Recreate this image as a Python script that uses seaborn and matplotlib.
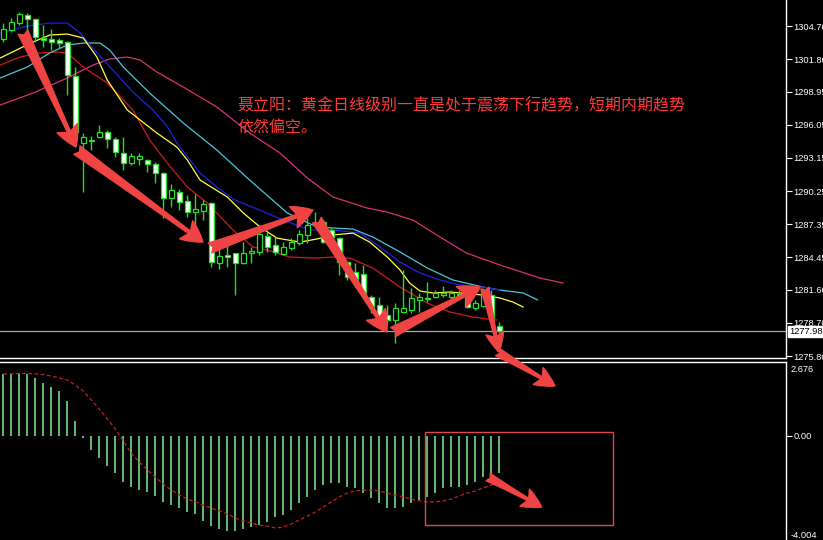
import numpy as np
import matplotlib
matplotlib.use("Agg")
import matplotlib.pyplot as plt
import matplotlib.transforms as mtransforms
from matplotlib.patches import Rectangle
import seaborn as sns

# candles (daily gold)
opens = [1303.56, 1304.35, 1304.96, 1305.66, 1305.31, 1303.65, 1303.56, 1303.48, 1303.30, 1300.32,
         1294.45, 1294.63, 1294.98, 1295.42, 1294.80, 1293.58, 1292.70, 1293.05, 1292.97, 1292.61,
         1291.83, 1289.64, 1290.16, 1289.38, 1288.41, 1288.50, 1289.20, 1283.95, 1284.65, 1284.82,
         1283.95, 1284.82, 1284.91, 1286.31, 1285.52, 1284.73, 1285.26, 1285.70, 1286.40, 1287.45,
         1287.54, 1286.84, 1286.13, 1284.03, 1283.16, 1282.98, 1280.97, 1280.27, 1279.39, 1278.95,
         1279.66, 1279.83, 1280.71, 1280.88, 1280.97, 1281.14, 1280.97, 1281.23, 1281.14, 1280.01,
         1280.18, 1281.14, 1278.43]
closes = [1304.44, 1305.05, 1305.75, 1305.31, 1303.74, 1303.48, 1303.30, 1303.21, 1300.41, 1295.42,
          1294.98, 1294.72, 1295.42, 1294.80, 1293.67, 1292.70, 1293.32, 1293.32, 1292.61, 1291.83,
          1289.64, 1290.34, 1289.29, 1288.41, 1288.68, 1289.11, 1284.03, 1284.56, 1284.47, 1283.95,
          1284.82, 1285.00, 1286.48, 1285.35, 1284.91, 1285.35, 1285.78, 1286.48, 1287.27, 1287.27,
          1285.78, 1286.22, 1284.03, 1282.72, 1282.46, 1281.14, 1280.01, 1279.22, 1278.95, 1280.01,
          1280.01, 1280.88, 1280.97, 1280.84, 1281.32, 1281.32, 1281.32, 1281.06, 1280.09, 1280.44,
          1281.58, 1279.13, 1277.98]
highs = [1304.96, 1305.40, 1305.93, 1305.84, 1305.40, 1304.79, 1304.44, 1303.65, 1303.39, 1301.11,
         1295.33, 1295.07, 1296.03, 1295.59, 1294.98, 1294.98, 1293.58, 1293.58, 1293.05, 1292.79,
         1291.92, 1290.86, 1290.43, 1289.90, 1289.99, 1289.46, 1289.29, 1285.35, 1286.22, 1284.82,
         1285.78, 1285.35, 1287.27, 1286.66, 1286.22, 1285.78, 1286.13, 1286.84, 1287.89, 1288.41,
         1287.71, 1287.01, 1286.22, 1284.03, 1283.95, 1283.77, 1281.14, 1280.97, 1280.27, 1280.44,
         1283.33, 1281.76, 1281.32, 1282.28, 1281.58, 1281.93, 1281.58, 1281.58, 1281.76, 1280.71,
         1281.76, 1281.58, 1278.78]
lows = [1303.30, 1304.17, 1304.79, 1303.91, 1303.30, 1302.86, 1302.60, 1302.77, 1298.66, 1295.33,
        1290.16, 1293.84, 1294.89, 1294.02, 1293.23, 1292.09, 1292.53, 1292.53, 1291.92, 1290.95,
        1287.89, 1288.85, 1288.59, 1287.98, 1287.28, 1287.71, 1283.59, 1283.42, 1283.59, 1281.14,
        1283.86, 1283.95, 1284.65, 1284.91, 1284.65, 1284.65, 1285.08, 1285.52, 1285.70, 1287.10,
        1285.70, 1286.13, 1282.89, 1282.46, 1281.84, 1280.97, 1279.57, 1279.13, 1278.69, 1276.94,
        1279.57, 1279.57, 1279.66, 1280.53, 1280.88, 1280.97, 1280.71, 1280.88, 1280.01, 1279.83,
        1280.09, 1278.95, 1277.82]

# moving average lines (bar position, price); some are shifted past the last bar
yellow_x = [-0.4, 3.7, 5.8, 8.0, 10.0, 11.7, 13.0, 15.5, 19.2, 21.7, 23.0, 24.6, 28.0, 30.0, 32.1,
            34.2, 37.1, 39.2, 41.2, 43.7, 45.8, 48.0, 49.6, 50.8, 52.1, 53.7, 55.8, 60.0, 62.1, 63.7, 65.0]
yellow_y = [1301.90, 1303.30, 1303.91, 1304.00, 1303.65, 1301.99, 1299.97, 1297.35, 1295.33, 1294.10,
            1292.97, 1291.21, 1289.73, 1288.33, 1287.10, 1286.13, 1285.78, 1286.05, 1286.40, 1286.57,
            1285.78, 1284.47, 1283.33, 1282.19, 1281.49, 1281.32, 1281.41, 1281.14, 1280.88, 1280.53, 1280.09]
blue_x = [-0.4, 3.0, 5.8, 8.0, 9.6, 11.7, 13.7, 16.2, 18.7, 20.5, 21.7, 24.6, 26.7, 28.7, 30.8, 35.0,
          38.3, 41.2, 44.6, 47.1, 49.6, 52.1, 54.6, 57.1, 60.0, 62.1]
blue_y = [1304.09, 1304.70, 1304.96, 1304.96, 1304.09, 1302.34, 1300.85, 1298.92, 1297.35, 1295.90,
          1294.45, 1291.83, 1290.60, 1289.55, 1288.94, 1287.71, 1286.84, 1286.84, 1286.57, 1285.35,
          1284.03, 1283.07, 1282.46, 1282.02, 1281.84, 1281.58]
cyan_x = [-0.4, 3.0, 5.8, 8.0, 10.0, 12.1, 13.3, 15.0, 18.3, 22.5, 26.7, 30.8, 35.5, 39.2, 43.7,
          46.2, 49.6, 53.0, 56.2, 60.0, 62.1, 65.0, 66.8]
cyan_y = [1300.15, 1301.11, 1302.34, 1303.04, 1303.21, 1303.21, 1302.60, 1301.11, 1298.83, 1296.21,
          1293.84, 1291.21, 1288.33, 1287.10, 1286.92, 1286.22, 1284.91, 1283.51, 1282.46, 1281.84,
          1281.58, 1281.32, 1280.71]
red_x = [-0.4, 2.1, 4.6, 6.8, 8.0, 10.0, 13.0, 16.2, 18.3, 20.5, 23.0, 25.5, 28.7, 31.2, 33.0, 35.8,
         39.2, 41.2, 43.3, 46.2, 49.6, 53.0, 55.8, 58.7, 61.7]
red_y = [1301.28, 1301.99, 1302.34, 1302.42, 1302.34, 1301.11, 1299.71, 1297.35, 1294.72, 1292.70,
         1290.60, 1289.20, 1286.84, 1285.35, 1285.08, 1284.47, 1284.38, 1284.47, 1284.38, 1283.51,
         1281.84, 1280.44, 1279.66, 1279.22, 1278.95]
pink_x = [-0.4, 3.7, 8.0, 11.2, 13.3, 15.5, 17.1, 19.2, 22.5, 26.7, 30.8, 34.6, 38.0, 41.2, 45.5,
          48.0, 51.2, 54.6, 57.9, 62.1, 67.1, 70.0]
pink_y = [1297.78, 1298.83, 1300.15, 1301.28, 1301.81, 1301.99, 1301.72, 1300.67, 1299.36, 1297.61,
          1295.33, 1293.58, 1291.39, 1289.73, 1288.76, 1288.41, 1287.71, 1286.22, 1284.82, 1283.77,
          1282.63, 1282.19]

# MACD histogram and signal
macd_hist = [2.62, 2.62, 2.676, 2.62, 2.45, 2.24, 2.07, 1.90, 1.48, 0.63,
             -0.08, -0.59, -0.93, -1.27, -1.56, -1.94, -2.15, -2.28, -2.36, -2.53,
             -2.78, -2.91, -3.04, -3.21, -3.29, -3.59, -3.80, -3.92, -4.004, -4.00,
             -3.92, -3.84, -3.76, -3.63, -3.42, -3.33, -3.12, -2.83, -2.57, -2.28,
             -2.07, -1.98, -1.98, -2.15, -2.19, -2.41, -2.62, -2.83, -3.04, -3.04,
             -3.00, -2.83, -2.70, -2.57, -2.41, -2.19, -2.15, -2.15, -2.07, -1.94,
             -1.73, -1.65, -1.56]
macd_signal = [2.62, 2.62, 2.64, 2.64, 2.62, 2.59, 2.53, 2.45, 2.36, 2.15,
               1.90, 1.52, 1.14, 0.72, 0.30, -0.21, -0.72, -1.10, -1.43, -1.73,
               -2.03, -2.28, -2.49, -2.66, -2.78, -2.91, -3.04, -3.16, -3.29, -3.46,
               -3.59, -3.67, -3.76, -3.80, -3.88, -3.84, -3.71, -3.54, -3.38, -3.21,
               -3.00, -2.78, -2.57, -2.41, -2.32, -2.28, -2.28, -2.32, -2.41, -2.49,
               -2.57, -2.66, -2.74, -2.78, -2.78, -2.74, -2.66, -2.53, -2.41, -2.32,
               -2.19, -2.07, -1.98]

price_ticks = [1304.70, 1301.80, 1298.95, 1296.05, 1293.15, 1290.25, 1287.35, 1284.45, 1281.60, 1278.70, 1275.80]
last_price = 1277.98
macd_max, macd_min = 2.676, -4.004

note_1 = "聂立阳：黄金日线级别一直是处于震荡下行趋势，短期内期趋势"
note_2 = "依然偏空。"

sns.set_theme(style="dark", rc={"axes.facecolor": "black", "figure.facecolor": "black",
                                "axes.grid": False})
plt.rcParams["font.family"] = ["Liberation Sans", "Noto Sans CJK SC", "DejaVu Sans"]

fig = plt.figure(figsize=(8.23, 5.40), dpi=100)
ax = fig.add_axes([0, 182 / 540, 786 / 823, 358 / 540])
ax2 = fig.add_axes([0, 0, 786 / 823, 178 / 540])

green = "#22e022"
arrow_red = "#f04444"
idx = np.arange(len(opens))
o = np.array(opens)
c = np.array(closes)

# moving averages
for xs, ys, col in [(pink_x, pink_y, "#d8307c"), (red_x, red_y, "#d01a1a"),
                    (cyan_x, cyan_y, "#46c8d8"), (blue_x, blue_y, "#2020e0"),
                    (yellow_x, yellow_y, "#ffff3c")]:
    sns.lineplot(x=xs, y=ys, ax=ax, color=col, linewidth=0.9, sort=False, estimator=None, zorder=2)

ax.axhline(last_price, color="#a8a8a8", linewidth=0.9, zorder=1)

# candles
ax.vlines(idx, lows, highs, color=green, linewidth=1.0, zorder=3)
body_h = np.maximum(np.abs(c - o), 0.05)
fills = ["white" if cc < oo else "black" for oo, cc in zip(o, c)]
ax.bar(idx, body_h, bottom=np.minimum(o, c), width=0.6, color=fills,
       edgecolor=green, linewidth=0.9, zorder=4)

ax.set_xlim(-0.41, 97.84)
ax.set_ylim(1275.63, 1306.98)

# arrows on the price panel
def draw_arrow(a, start, end, hw=1.6, hl=1.5, tw=0.75):
    a.annotate("", xy=end, xytext=start, annotation_clip=False,
               arrowprops=dict(arrowstyle=f"fancy,head_width={hw},head_length={hl},tail_width={tw}",
                               color=arrow_red, shrinkA=0, shrinkB=0, mutation_scale=10),
               zorder=6)

draw_arrow(ax, (2.46, 1304.17), (9.09, 1294.10))
draw_arrow(ax, (9.21, 1293.84), (24.96, 1285.78))
draw_arrow(ax, (25.84, 1285.26), (38.71, 1288.59))
draw_arrow(ax, (39.21, 1287.71), (47.96, 1277.90))
draw_arrow(ax, (48.71, 1277.90), (59.59, 1281.84))
draw_arrow(ax, (60.2, 1281.76), (61.96, 1276.15), hw=1.3, hl=1.4, tw=0.6)

ax.text(237 / 786, 1 - 105 / 358, note_1, transform=ax.transAxes, color="#ff3a3a",
        fontsize=11.5, family=["Noto Sans CJK SC"], va="center", ha="left", zorder=7)
ax.text(237 / 786, 1 - 128 / 358, note_2, transform=ax.transAxes, color="#ff3a3a",
        fontsize=11.5, family=["Noto Sans CJK SC"], va="center", ha="left", zorder=7)

ax.set_xticks([])
ax.yaxis.tick_right()
ax.set_yticks(price_ticks)
ax.set_yticklabels([f"{v:.2f}" for v in price_ticks])
ax.tick_params(axis="y", colors="white", length=4, width=0.8, pad=1.5, labelsize=6.7)
for side in ["top", "left"]:
    ax.spines[side].set_visible(False)
for side in ["right", "bottom"]:
    ax.spines[side].set_color("white")
    ax.spines[side].set_linewidth(1.0)

trans = mtransforms.blended_transform_factory(ax.transAxes, ax.transData)
ax.text(1.004, last_price, f"{last_price:.2f}", transform=trans, fontsize=6.7, color="black",
        va="center", ha="left", clip_on=False, zorder=8,
        bbox=dict(boxstyle="square,pad=0.12", fc="white", ec="white"))

# MACD panel
ax2.vlines(idx, 0, macd_hist, color="#7ef090", linewidth=1.1, zorder=2)
sns.lineplot(x=idx, y=macd_signal, ax=ax2, color="#c81e1e", linewidth=0.9,
             linestyle=(0, (3, 2)), zorder=3)
ax2.add_patch(Rectangle((52.7, -3.76), 23.5, 3.92, fill=False, edgecolor="#e04848",
                        linewidth=1.0, zorder=4))
draw_arrow(ax2, (61.8, 3.54), (68.96, 2.11), hw=1.4, hl=1.4, tw=0.6)
draw_arrow(ax2, (60.6, -1.73), (67.3, -3.0), hw=1.4, hl=1.4, tw=0.6)

ax2.set_xlim(-0.41, 97.84)
ax2.set_ylim(-4.388, 3.122)
ax2.set_xticks([])
ax2.yaxis.tick_right()
ax2.set_yticks([0])
ax2.set_yticklabels(["0.00"])
ax2.tick_params(axis="y", colors="white", length=4, width=0.8, pad=1.5, labelsize=6.7)
ax2.text(1.006, 0.96, f"{macd_max:.3f}", transform=ax2.transAxes, color="white",
         fontsize=6.7, va="center", ha="left", clip_on=False)
ax2.text(1.006, 0.028, f"{macd_min:.3f}", transform=ax2.transAxes, color="white",
         fontsize=6.7, va="center", ha="left", clip_on=False)
for side in ["bottom", "left"]:
    ax2.spines[side].set_visible(False)
for side in ["right", "top"]:
    ax2.spines[side].set_color("white")
    ax2.spines[side].set_linewidth(1.0)

fig.savefig("out.png", dpi=100, facecolor="black")
